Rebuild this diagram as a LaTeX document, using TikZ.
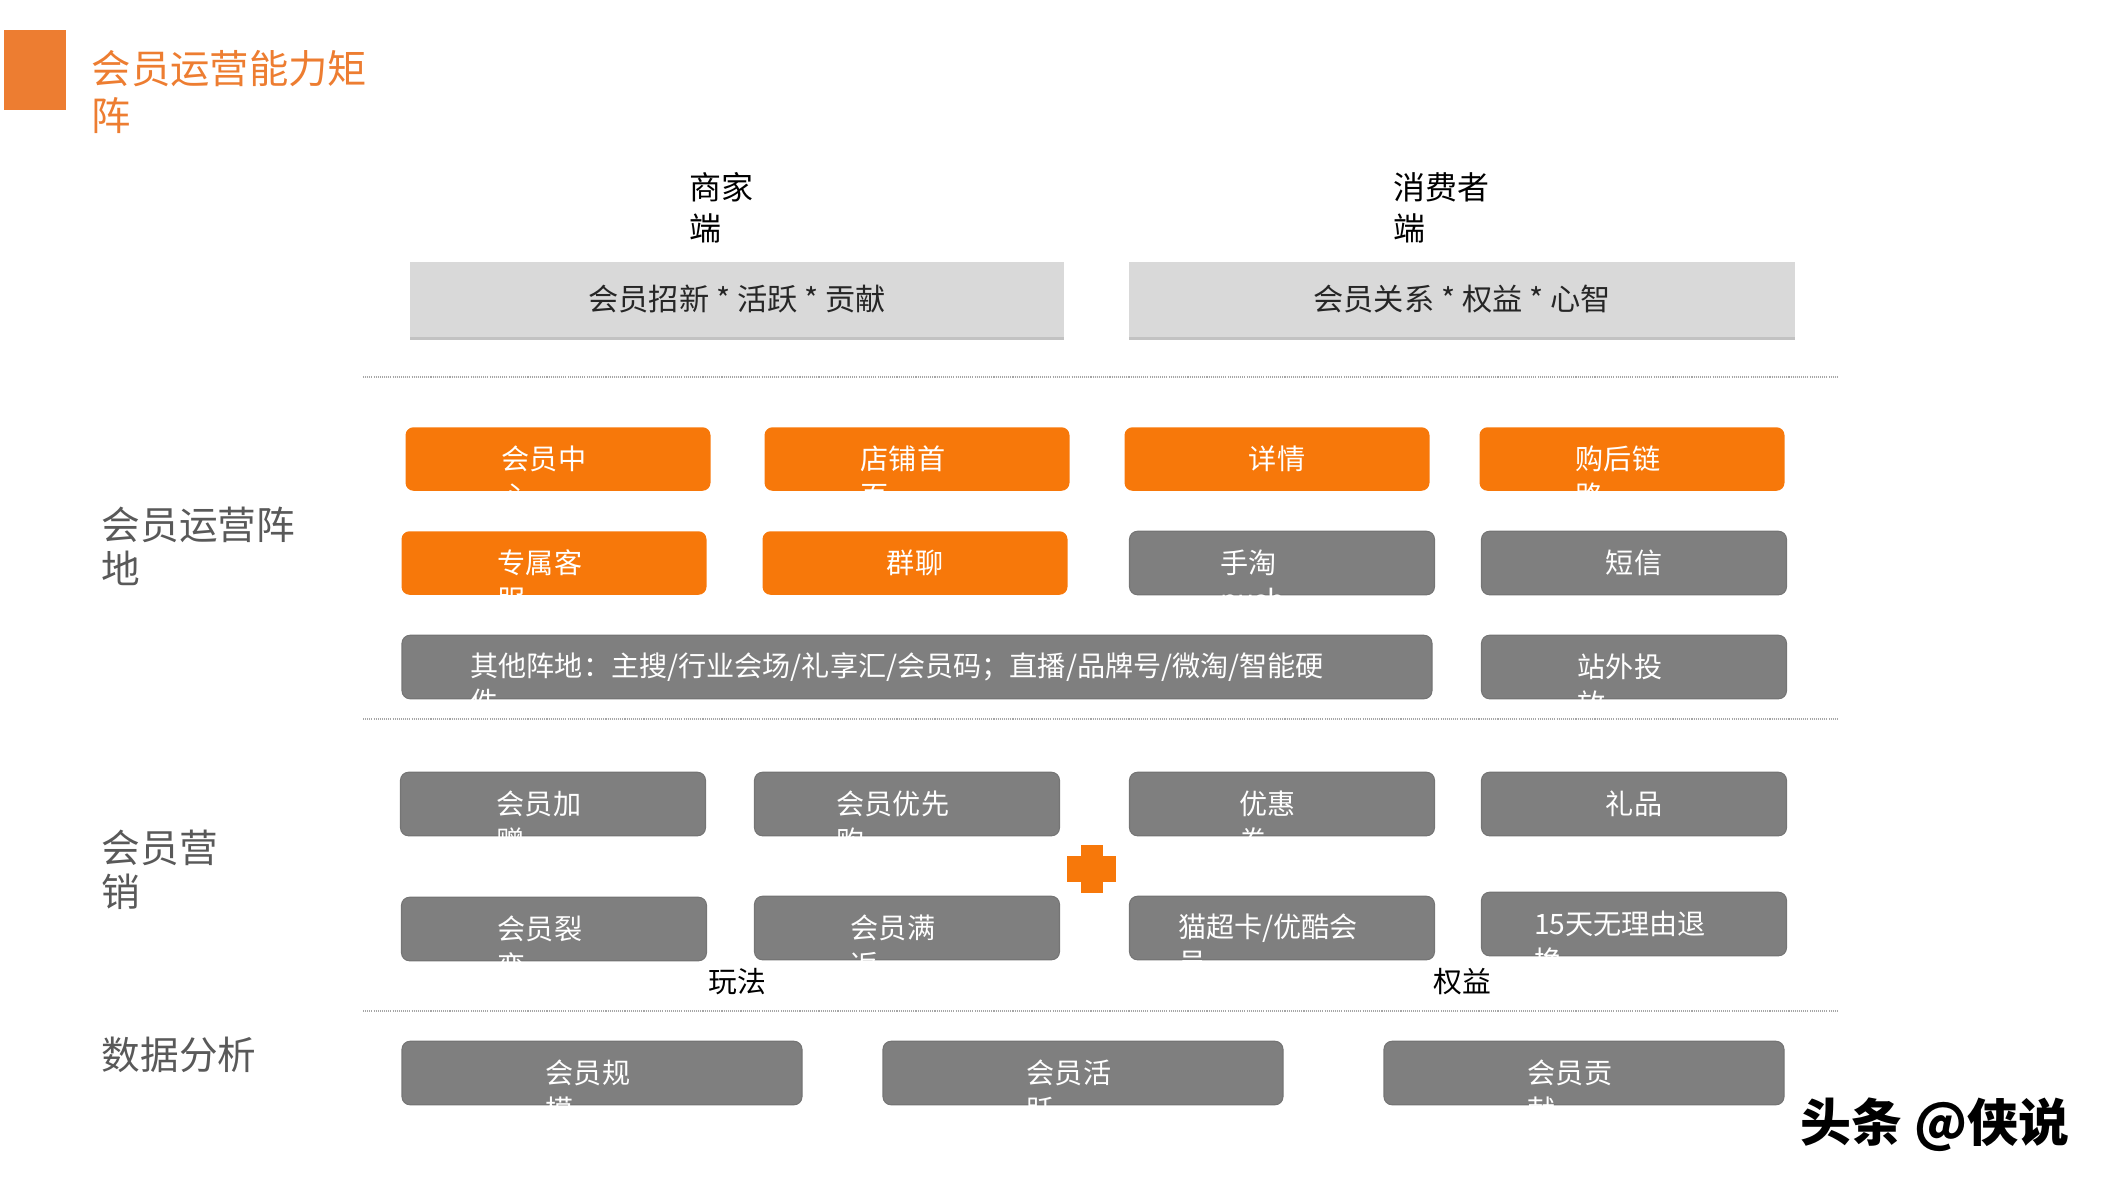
\documentclass[tikz,border=0pt]{standalone}
\usepackage{fontspec}
\setmainfont{Noto Sans CJK SC}
\usepackage{tikz}
\usetikzlibrary{shadows}
\definecolor{brand}{HTML}{ED7D31}
\definecolor{tileorange}{HTML}{F7780A}
\definecolor{tilegray}{HTML}{7F7F7F}
\definecolor{headgray}{HTML}{D9D9D9}
\definecolor{taggray}{HTML}{595959}
% first line of a tile, the wrapped rest hangs below the tile
\newcommand{\wrap}[3][1em]{\rlap{\smash{\raisebox{-1.3em}{#3}}}#2\kern#1}

\begin{document}
\begin{tikzpicture}[x=0.1mm,y=-0.1mm,
  tile/.style={rounded corners=0.8mm,inner sep=0pt,minimum width=30.5mm,minimum height=6.35mm,
    text=white,font={\fontsize{8pt}{10pt}\selectfont}},
  otile/.style={tile,fill=tileorange},
  gtile/.style={tile,fill=tilegray,draw=tilegray!92!black,line width=0.3pt},
  headbox/.style={fill=headgray,inner sep=0pt,minimum height=7.5mm,text=black!85,
    font={\fontsize{8.6pt}{10pt}\selectfont},
    drop shadow={shadow xshift=0mm,shadow yshift=-0.35mm,fill=black!40,opacity=.6}},
  rowtag/.style={anchor=north west,inner sep=0pt,align=left,text=taggray,
    font={\fontsize{11pt}{12.5pt}\selectfont}},
  sidetag/.style={anchor=north west,inner sep=0pt,align=left,
    font={\fontsize{9.1pt}{11.7pt}\selectfont}},
  groupname/.style={inner sep=0pt,font={\fontsize{8.2pt}{10pt}\selectfont}}]
  \useasboundingbox (0,0) rectangle (2110,1187);

  % title
  \fill[brand] (4,30) rectangle (66,110);
  \node[anchor=north west,inner sep=0pt,align=left,text=brand,
    font={\fontsize{11.2pt}{13.4pt}\selectfont}] (title) at (91,50) {会员运营能力矩\\阵};

  % merchant / consumer heads
  \node[sidetag] (merchanttag) at (689,172) {商家\\端};
  \node[sidetag] (consumertag) at (1393,172) {消费者\\端};
  \node[headbox,minimum width=65.4mm] (merchant) at (737,299) {会员招新 * 活跃 * 贡献};
  \node[headbox,minimum width=66.6mm] (consumer) at (1462,299) {会员关系 * 权益 * 心智};

  % row names
  \node[rowtag] (fieldtag) at (101,506) {会员运营阵\\地};
  \node[rowtag] (marketingtag) at (101,829) {会员营\\销};
  \node[rowtag] (datatag) at (101,1036) {数据分析};

  % separators
  \foreach \y in {377,719,1011}
    \draw[black!35,line width=0.4pt,dash pattern=on 0.3pt off 0.3pt] (363,\y) -- (1838,\y);

  % operating positions
  \foreach \n/\x/\s/\t in {memberhub/558/otile/{\wrap{会员中}{心}},shophome/917/otile/{\wrap{店铺首}{页}},
      detail/1277/otile/详情,afterbuy/1632/otile/{\wrap{购后链}{路}}}
    \node[\s] (\n) at (\x,459) {\t};
  \foreach \n/\x/\s/\t in {service/554/otile/{\wrap{专属客}{服}},groupchat/915/otile/群聊,
      apppush/1282/gtile/{\wrap[2.4em]{手淘}{push}},sms/1634/gtile/短信}
    \node[\s] (\n) at (\x,563) {\t};
  \node[gtile,minimum width=103mm] (others) at (917,667)
    {\wrap[1.4em]{其他阵地：主搜/行业会场/礼享汇/会员码；直播/品牌号/微淘/智能硬}{件}};
  \node[gtile] (offsite) at (1634,667) {\wrap{站外投}{放}};

  % marketing
  \foreach \n/\x/\t in {bonus/553/{\wrap{会员加}{赠}},priority/907/{\wrap{会员优先}{购}},
      coupon/1282/{\wrap{优惠}{券}},present/1634/礼品}
    \node[gtile] (\n) at (\x,804) {\t};
  \foreach \n/\x/\y/\t in {fission/554/929/{\wrap{会员裂}{变}},fullreturn/907/928/{\wrap{会员满}{返}},
      vipcard/1282/928/{\wrap{猫超卡/优酷会}{员}},refund/1634/924/{\wrap{15天无理由退}{换}}}
    \node[gtile] (\n) at (\x,\y) {\t};
  \fill[tileorange] (1081,845) rectangle (1103,893);
  \fill[tileorange] (1067,856) rectangle (1116,882);
  \node[groupname] (play) at (737,982) {玩法};
  \node[groupname] (rights) at (1462,982) {权益};

  % data analysis
  \foreach \n/\x/\t in {scale/602/{\wrap{会员规}{模}},activity/1083/{\wrap{会员活}{跃}},
      contribution/1584/{\wrap{会员贡}{献}}}
    \node[gtile,minimum width=40mm] (\n) at (\x,1073) {\t};

  \node[inner sep=0pt,font={\fontsize{14.5pt}{16pt}\selectfont\bfseries}] (mark) at (1935,1125) {头条 @侠说};
\end{tikzpicture}
\end{document}
